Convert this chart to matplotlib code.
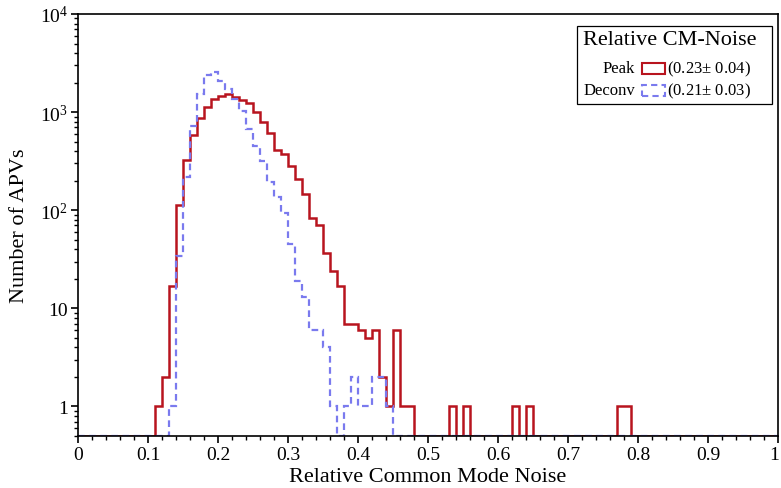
import numpy as np
import matplotlib
matplotlib.use('Agg')
import matplotlib.pyplot as plt
from matplotlib import rcParams
from matplotlib.patches import Rectangle
from matplotlib.ticker import LogLocator, MultipleLocator, FixedLocator, FixedFormatter, NullFormatter

rcParams['font.family'] = 'serif'
rcParams['font.serif'] = ['Liberation Serif']
rcParams['mathtext.fontset'] = 'custom'
rcParams['mathtext.rm'] = 'Liberation Serif'
rcParams['mathtext.it'] = 'Liberation Serif:italic'

# histogram: 100 bins from 0 to 1
n_bins = 100
x_min, x_max = 0.0, 1.0

# Peak mode counts, starting at bin 0.11
peak_first_bin = 11
peak_counts = [1, 2, 17, 112, 324, 590, 880, 1120, 1350, 1450,
               1530, 1410, 1340, 1240, 1000, 790, 610, 410, 370, 285,
               210, 148, 83, 70, 37, 24, 17, 7, 7, 6,
               5, 6, 2, 1, 6, 1, 1, 0, 0, 0,
               0, 0, 1, 0, 1, 0, 0, 0, 0, 0,
               0, 1, 0, 1, 0, 0, 0, 0, 0, 0,
               0, 0, 0, 0, 0, 0, 1, 1]

# Deconvolution mode counts, starting at bin 0.13
deconv_first_bin = 13
deconv_counts = [1, 34, 220, 720, 1530, 2400, 2550, 2060, 1730, 1370,
                 1020, 670, 450, 314, 193, 138, 93, 45, 19, 13,
                 6, 6, 4, 1, 0, 1, 2, 1, 1, 2,
                 2, 1]

legend_title = 'Relative CM-Noise'
legend_names = ['Peak', 'Deconv']
legend_values = ['(0.23$\\pm$ 0.04)', '(0.21$\\pm$ 0.03)']

y_min, y_max = 0.5, 1e4
red = '#B8141E'
blue = '#7A7AEE'


def fill_bins(first, counts):
    h = np.zeros(n_bins)
    h[first:first + len(counts)] = counts
    return h


def x_label_fmt(v, pos):
    # the "1" at the right edge is written separately so it is not cut off
    if v > 0.99:
        return ''
    return '%g' % round(v, 2)


edges = np.linspace(x_min, x_max, n_bins + 1)
h_peak = fill_bins(peak_first_bin, peak_counts)
h_deconv = fill_bins(deconv_first_bin, deconv_counts)

fig = plt.figure(figsize=(7.81, 4.89), dpi=100)
ax = fig.add_axes([78 / 781, 1 - 437 / 489, 700 / 781, 422 / 489])

ax.stairs(np.maximum(h_peak, y_min), edges, baseline=None, color=red, lw=1.8)
ax.stairs(np.maximum(h_deconv, y_min), edges, baseline=None, color=blue, lw=1.6,
          linestyle=(0, (3, 2)))

ax.set_yscale('log')
ax.set_xlim(x_min, x_max)
ax.set_ylim(y_min, y_max)

ax.xaxis.set_major_locator(MultipleLocator(0.1))
ax.xaxis.set_minor_locator(MultipleLocator(0.02))
ax.xaxis.set_major_formatter(plt.FuncFormatter(x_label_fmt))

ax.yaxis.set_major_locator(FixedLocator([1, 10, 100, 1000, 10000]))
ax.yaxis.set_major_formatter(FixedFormatter(['1', '10', '$10^{2}$', '$10^{3}$', '$10^{4}$']))
ax.yaxis.set_minor_locator(LogLocator(base=10, subs=np.arange(2, 10), numticks=20))
ax.yaxis.set_minor_formatter(NullFormatter())

ax.tick_params(which='major', direction='out', length=5, width=1.2, labelsize=14, pad=2)
ax.tick_params(which='minor', direction='out', length=3, width=1.0)
for s in ax.spines.values():
    s.set_linewidth(1.2)

ax.annotate('%g' % x_max, xy=(1, 0), xycoords='axes fraction', xytext=(1, -7),
            textcoords='offset points', ha='right', va='top', fontsize=14)

ax.set_xlabel('Relative Common Mode Noise', fontsize=16, labelpad=3)
ax.set_ylabel('Number of APVs', fontsize=16, labelpad=8)

# legend drawn by hand: name, box, value
ax.add_patch(Rectangle((0.713, 0.787), 0.278, 0.185, transform=ax.transAxes,
                       fill=False, edgecolor='black', lw=0.9, zorder=5))
ax.text(0.846, 0.939, legend_title, transform=ax.transAxes, ha='center', va='center',
        fontsize=16, zorder=6)
row_y = [0.871, 0.819]
for name, val, col, ls, y in zip(legend_names, legend_values, [red, blue],
                                  ['-', (0, (3, 2))], row_y):
    ax.text(0.796, y, name, transform=ax.transAxes, ha='right', va='center', fontsize=12)
    ax.add_patch(Rectangle((0.805, y - 0.013), 0.034, 0.026, transform=ax.transAxes,
                           fill=False, edgecolor=col, lw=1.5, linestyle=ls))
    ax.text(0.841, y, val, transform=ax.transAxes, ha='left', va='center', fontsize=12)

fig.savefig('out.png', dpi=100)
